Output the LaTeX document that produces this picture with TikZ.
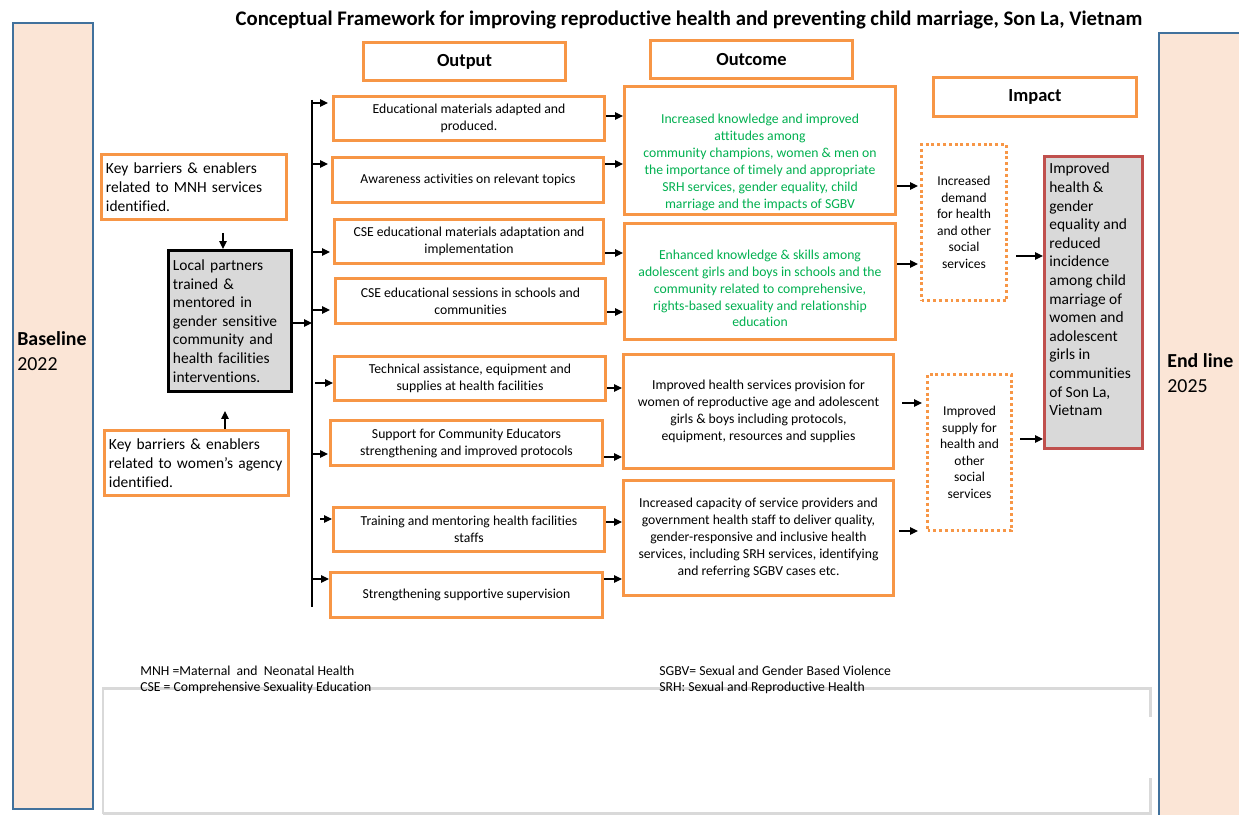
\documentclass[tikz,border=0pt]{standalone}
\usepackage{fontspec}
\setmainfont{Carlito}[Ligatures={NoCommon}]
\usetikzlibrary{arrows.meta}
\definecolor{orng}{HTML}{F79646}
\definecolor{grn}{HTML}{00B050}
\definecolor{peach}{HTML}{FBE5D6}
\definecolor{pblue}{HTML}{41719C}
\definecolor{redb}{HTML}{C0504D}
\definecolor{lgray}{HTML}{D9D9D9}
\definecolor{fgray}{HTML}{D9D9D9}
\newcommand\bx[7]{%
  \pgfmathsetmacro\bw{(#5-#3-3)*0.02}\pgfmathsetmacro\bh{(#6-#4-3)*0.02}%
  \node[#2, anchor=north west, minimum width=\bw cm, minimum height=\bh cm] (#1) at (#3,#4) {#7};}
\newcommand\lbx[7]{%
  \pgfmathsetmacro\bw{(#5-#3-3)*0.02}\pgfmathsetmacro\bh{(#6-#4-3)*0.02}%
  \pgfmathsetmacro\tw{(#5-#3-12)*0.02}%
  \node[#2, anchor=north west, inner xsep=0.09cm, text width=\tw cm, minimum width=\bw cm, minimum height=\bh cm] (#1) at (#3,#4) {#7};}
\tikzset{
  obox/.style={draw=orng, line width=1.7pt, inner sep=0pt, align=center, font=\fontsize{7.8}{9.6}\selectfont},
  otext/.style={inner sep=0pt, align=center, font=\fontsize{7.8}{9.6}\selectfont},
  hbox/.style={draw=orng, line width=1.7pt, inner sep=0pt, font=\bfseries\fontsize{10.5}{12}\selectfont},
  lbox/.style={draw=orng, line width=1.7pt, inner ysep=0pt, align=left, font=\fontsize{8.8}{10.7}\selectfont},
  lpbox/.style={draw=black, line width=1.7pt, fill=fgray, inner ysep=0pt, align=left, font=\fontsize{8.8}{10.6}\selectfont},
  dbox/.style={draw=orng, line width=1.7pt, dash pattern=on 1.7pt off 1.6pt, inner sep=0pt, align=center, font=\fontsize{7.7}{9.4}\selectfont},
  impbox/.style={draw=redb, line width=1.7pt, fill=fgray, inner sep=0pt},
  panel/.style={draw=pblue, line width=1.4pt, fill=peach, inner sep=0pt},
  foot/.style={draw=lgray, line width=1.7pt},
  ftext/.style={anchor=west, inner sep=0pt, font=\fontsize{7.8}{9.6}\selectfont},
  conn/.style={draw=black, line width=0.7pt},
  arr/.style={draw=black, line width=0.7pt, -{Triangle[length=4.5pt,width=4.2pt]}}
}
\begin{document}
\begin{tikzpicture}[x=0.02cm,y=-0.02cm]
\clip (0,0) rectangle (1239,814);
\fill[white] (0,0) rectangle (1239,814);

% side panels
\bx{base}{panel}{12}{22}{95}{811}{}
\bx{endp}{panel}{1158}{32}{1270}{840}{}
\node[anchor=west, inner sep=0pt, align=left, font=\fontsize{11.3}{14.2}\selectfont] (basetxt) at (17,351) {\textbf{Baseline}\\2022};
\node[anchor=west, inner sep=0pt, align=left, font=\fontsize{11.3}{14.2}\selectfont] (endtxt) at (1167,373) {\textbf{End line}\\2025};

% title
\node[inner sep=0pt, font=\bfseries\fontsize{11.8}{13}\selectfont] (title) at (689,20) {Conceptual Framework for improving reproductive health and preventing child marriage, Son La, Vietnam};

% headers
\bx{hout}{hbox}{362}{41}{567}{82}{Output}
\bx{hoc}{hbox}{649}{39}{854}{80}{Outcome}
\bx{himp}{hbox}{932}{76}{1138}{118}{Impact}

% left column
\lbx{kb1}{lbox}{100}{153}{288}{221}{Key barriers \& enablers\\related to MNH services\\identified.}
\lbx{lp}{lpbox}{167}{249}{293}{393}{Local partners\\trained \&\\mentored in\\gender sensitive\\community and\\health facilities\\interventions.}
\lbx{kb2}{lbox}{103}{429}{290}{497}{Key barriers \& enablers\\related to women’s agency\\identified.}

% outputs
\bx{out1}{obox}{332}{95}{606}{142}{Educational materials adapted and\\produced.}
\bx{out2}{obox}{331}{156}{605}{204}{Awareness activities on relevant topics}
\bx{out3}{obox}{333}{218}{605}{265}{CSE educational materials adaptation and\\implementation}
\bx{out4}{obox}{334}{277}{607}{325}{CSE educational sessions in schools and\\communities}
\bx{out5}{obox}{333}{355}{607}{402}{Technical assistance, equipment and\\supplies at health facilities}
\bx{out6}{obox}{329}{419}{604}{467}{Support for Community Educators\\strengthening and improved protocols}
\bx{out7}{obox}{332}{506}{606}{553}{Training and mentoring health facilities\\staffs}
\bx{out8}{obox}{329}{571}{604}{619}{Strengthening supportive supervision}

% outcomes
\bx{oc1}{obox}{623}{85}{897}{216}{}
\node[otext, text=grn] (oc1t) at (760,162.5) {Increased knowledge and improved\\attitudes among\\community champions, women \& men on\\the importance of timely and appropriate\\SRH services, gender equality, child\\marriage and the impacts of SGBV};
\bx{oc2}{obox}{623}{222}{897}{341}{}
\node[otext, text=grn] (oc2t) at (760,288.5) {Enhanced knowledge \& skills among\\adolescent girls and boys in schools and the\\community related to comprehensive,\\rights-based sexuality and relationship\\education};
\bx{oc3}{obox}{622}{353}{895}{470}{Improved health services provision for\\women of reproductive age and adolescent\\girls \& boys including protocols,\\equipment, resources and supplies}
\bx{oc4}{obox}{622}{479}{895}{597}{Increased capacity of service providers and\\government health staff to deliver quality,\\gender-responsive and inclusive health\\services, including SRH services, identifying\\and referring SGBV cases etc.}

% impact column
\bx{d1}{dbox}{920}{143}{1008}{302}{Increased\\demand\\for health\\and other\\social\\services}
\bx{d2}{dbox}{926}{373}{1013}{532}{Improved\\supply for\\health and\\other\\social\\services}
\bx{imp}{impbox}{1043}{155}{1144}{450}{}
\node[anchor=west, inner sep=0pt, align=left, font=\fontsize{8.8}{10.6}\selectfont] (impt) at (1049,289.5) {Improved\\health \&\\gender\\equality and\\reduced\\incidence\\among child\\marriage of\\women and\\adolescent\\girls in\\communities\\of Son La,\\Vietnam};

% footer
\draw[foot] (103,814) -- (103,688) -- (1150,688) -- (1150,717);
\draw[foot] (1150,778) -- (1150,813) -- (103,813);
\node[ftext] (fn1) at (140,671) {MNH =Maternal\ \ and\ \ Neonatal Health};
\node[ftext] (fn2) at (140,688) {CSE = Comprehensive Sexuality Education};
\node[ftext] (fn3) at (659,671) {SGBV= Sexual and Gender Based Violence};
\node[ftext] (fn4) at (659,688) {SRH: Sexual and Reproductive Health};

% left connectors
\draw[arr, shorten <=0.24cm] (kb1.south -| 223,0) -- (lp.north -| 223,0);
\draw[arr, shorten >=0.36cm] (kb2.north -| 225,0) -- (lp.south -| 225,0);
\coordinate (bus) at (312,100);
\coordinate (busend) at (312,607);
\draw[conn] (bus) -- (busend);
\draw[arr] (lp.east |- 0,323) -- (bus |- 0,323);

% bus to outputs
\draw[arr, shorten >=0.08cm] (bus |- 0,103) -- (out1.west |- 0,103);
\draw[arr, shorten >=0.06cm] (bus |- 0,164) -- (out2.west |- 0,164);
\draw[arr, shorten >=0.06cm] (bus |- 0,252) -- (out3.west |- 0,252);
\draw[arr, shorten >=0.08cm] (bus |- 0,310) -- (out4.west |- 0,310);
\draw[arr, shorten <=0.06cm] (bus |- 0,383) -- (out5.west |- 0,383);
\draw[arr, shorten >=0.02cm] (bus |- 0,454) -- (out6.west |- 0,454);
\draw[arr, shorten <=0.16cm] (bus |- 0,519) -- (out7.west |- 0,519);
\draw[arr] (bus |- 0,579) -- (out8.west |- 0,579);

% outputs to outcomes
\draw[arr] (out1.east |- 0,116) -- (oc1.west |- 0,116);
\draw[arr] (out2.east |- 0,164) -- (oc1.west |- 0,164);
\draw[arr] (out3.east |- 0,253) -- (oc2.west |- 0,253);
\draw[arr] (out4.east |- 0,312) -- (oc2.west |- 0,312);
\draw[arr] (out5.east |- 0,388) -- (oc3.west |- 0,388);
\draw[arr] (out6.east |- 0,457) -- (oc3.west |- 0,457);
\draw[arr] (out7.east |- 0,522) -- (oc4.west |- 0,522);
\draw[arr] (out8.east |- 0,579) -- (oc4.west |- 0,579);

% outcomes to intermediate impacts
\draw[arr, shorten >=0.04cm] (oc1.east |- 0,186) -- (d1.west |- 0,186);
\draw[arr, shorten >=0.04cm] (oc2.east |- 0,264) -- (d1.west |- 0,264);
\draw[arr, shorten <=0.14cm, shorten >=0.08cm] (oc3.east |- 0,403) -- (d2.west |- 0,403);
\draw[arr, shorten <=0.08cm, shorten >=0.16cm] (oc4.east |- 0,531) -- (d2.west |- 0,531);

% to final impact
\draw[arr, shorten <=0.16cm] (d1.east |- 0,256) -- (imp.west |- 0,256);
\draw[arr, shorten <=0.14cm] (d2.east |- 0,439) -- (imp.west |- 0,439);
\end{tikzpicture}
\end{document}
